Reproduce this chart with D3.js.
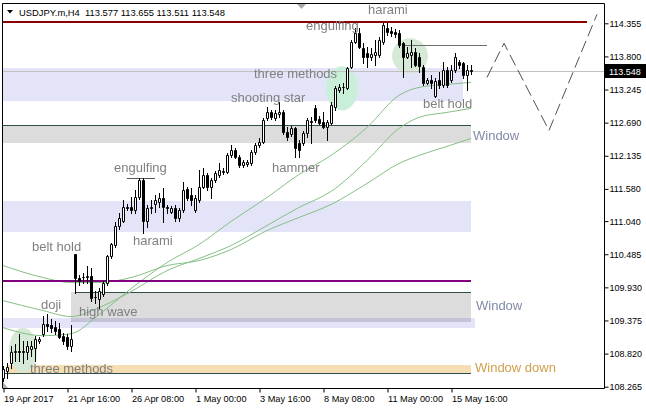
<!DOCTYPE html>
<html><head><meta charset="utf-8">
<script src="https://cdn.jsdelivr.net/npm/d3@7/dist/d3.min.js"></script>
<style>body{margin:0;background:#fff}svg{display:block}text{font-family:"Liberation Sans",Arial,sans-serif}</style>
</head><body><svg id="c" width="646" height="410"></svg>
<script>
// ---- data ----
const symbolTitle = "USDJPY.m,H4  113.577 113.655 113.511 113.548";
const lastPrice = 113.548;
const open = [108.416,108.534,108.668,108.853,108.870,108.853,108.853,108.903,108.920,109.037,109.154,109.322,109.305,109.272,109.238,109.120,109.104,108.953,110.496,110.094,110.111,110.111,110.128,109.775,109.741,109.825,110.010,110.463,110.648,110.966,111.050,111.269,111.269,111.218,111.436,111.721,111.050,111.252,111.335,111.352,111.419,111.269,111.201,111.252,111.084,111.218,111.570,111.470,111.218,111.386,111.604,111.805,111.604,111.721,111.805,111.855,111.855,112.141,112.224,112.107,111.973,111.990,112.006,112.191,112.308,112.359,112.761,112.862,112.761,112.828,112.862,112.527,112.493,112.594,112.342,112.342,112.510,112.711,112.929,112.745,112.694,112.610,112.677,112.946,113.231,113.281,113.265,113.617,114.036,114.187,113.936,113.852,113.785,113.818,113.818,114.036,114.271,114.221,114.204,114.187,114.019,113.785,113.818,113.868,113.785,113.617,113.348,113.399,113.130,113.399,113.315,113.567,113.399,113.567,113.701,113.684,113.483,113.577];
const high = [108.617,108.668,108.953,108.987,109.154,109.037,109.037,109.037,109.120,109.104,109.456,109.490,109.406,109.372,109.339,109.171,109.154,109.305,110.496,110.144,110.178,110.295,110.262,109.876,109.926,110.044,110.479,110.681,111.017,111.168,111.386,111.319,111.436,111.554,111.755,111.755,111.302,111.386,111.470,111.503,111.587,111.302,111.285,111.302,111.252,111.688,111.604,111.587,111.470,111.889,111.923,111.839,111.755,111.872,112.006,111.923,112.174,112.308,112.258,112.141,112.057,112.057,112.224,112.342,112.426,112.761,112.946,112.895,112.895,113.030,112.895,112.610,112.627,112.610,112.392,112.543,112.761,112.778,112.979,112.795,112.862,112.728,113.030,113.298,113.332,113.348,113.617,114.070,114.271,114.271,114.019,113.952,113.936,114.070,114.120,114.372,114.372,114.288,114.254,114.238,114.036,113.952,114.070,113.936,113.852,113.650,113.432,113.483,113.432,113.533,113.701,113.617,113.650,113.852,113.734,113.701,113.650,113.655];
const low = [108.366,108.416,108.584,108.702,108.702,108.668,108.735,108.785,108.702,109.003,109.120,109.205,109.188,109.154,109.087,108.987,108.903,108.870,109.842,109.976,110.010,110.010,109.708,109.674,109.591,109.792,109.976,110.429,110.614,110.916,111.017,111.218,111.168,111.168,111.403,110.849,110.933,111.168,111.185,111.269,111.017,111.168,111.168,111.050,111.050,111.185,111.386,111.302,111.185,111.352,111.587,111.554,111.419,111.688,111.772,111.822,111.839,112.107,112.090,111.939,111.939,111.956,111.973,112.157,112.275,112.342,112.728,112.745,112.728,112.778,112.493,112.392,112.460,112.107,112.107,112.308,112.443,112.342,112.694,112.661,112.594,112.392,112.661,112.895,113.198,113.181,113.248,113.600,114.019,113.936,113.684,113.617,113.734,113.650,113.785,114.003,114.154,114.137,114.120,113.952,113.449,113.768,113.617,113.634,113.533,113.315,113.332,113.265,113.114,113.265,113.281,113.281,113.365,113.533,113.600,113.432,113.231,113.511];
const close = [108.567,108.601,108.853,108.870,108.853,108.860,108.953,108.953,109.070,109.070,109.322,109.288,109.255,109.205,109.104,109.037,108.953,109.070,110.094,110.044,110.105,110.128,109.758,109.770,109.876,110.010,110.463,110.664,110.966,111.084,111.269,111.252,111.218,111.436,111.721,111.034,111.252,111.269,111.386,111.419,111.269,111.252,111.252,111.084,111.218,111.554,111.419,111.386,111.419,111.604,111.805,111.604,111.721,111.839,111.889,111.872,112.141,112.224,112.107,111.973,112.023,112.023,112.191,112.308,112.359,112.728,112.862,112.778,112.845,112.862,112.527,112.443,112.594,112.258,112.224,112.510,112.728,112.694,112.728,112.677,112.610,112.694,112.979,113.265,113.281,113.290,113.600,114.036,114.187,113.952,113.785,113.785,113.835,113.868,114.070,114.321,114.204,114.187,114.170,113.986,113.785,113.852,113.868,113.650,113.634,113.348,113.399,113.348,113.382,113.315,113.567,113.315,113.567,113.785,113.650,113.483,113.567,113.548];

const maIndex = [0,10,17,24,32,41,49,57,66,74,82,91,99,104,111,117];
const maFast = [109.255,109.120,109.154,109.473,109.909,110.345,110.648,111.034,111.436,111.822,112.141,112.610,113.148,113.281,113.332,113.365];
const maMid  = [109.708,109.541,109.440,109.591,109.859,110.211,110.413,110.631,110.966,111.269,111.537,112.057,112.594,112.778,112.862,112.929];
const maSlow = [110.295,110.094,110.010,110.010,110.094,110.295,110.379,110.564,110.882,111.101,111.319,111.671,112.006,112.141,112.292,112.426];

const timeLabels = ["19 Apr 2017","21 Apr 16:00","26 Apr 08:00","1 May 00:00","3 May 16:00","8 May 08:00","11 May 00:00","15 May 16:00"];
const timeIndex = [0,16,32,48,64,80,96,112];
const priceTicks = [114.355,113.800,113.245,112.690,112.135,111.580,111.040,110.485,109.930,109.375,108.820,108.265];

// zones: [fromBar, toBar, topPrice, bottomPrice]
const lavenderZones = [[-1,115,113.606,113.053],[-1,117,111.376,110.857],[-1,118,109.418,109.250]];
const windowZones = [[-1,117,112.651,112.349],[17,117,109.852,109.349]];
const windowDownZone = [1,117,108.631,108.497];
// horizontal lines: [fromBar, toBar, price]
const maroonLine = [-1,146,114.38];
const purpleLine = [-1,117,110.04];
const greyLine = [100,121,113.986];
const engulfMark = [31,38,111.762];
const gapLines = [[-1,117,112.651],[18,117,109.852],[-1,117,108.497]];
// ellipses: [fromBar, toBar, topPrice, bottomPrice]
const ellipses = [[80.75,88.75,113.634,112.895],[97.25,106.25,114.103,113.516],[1.5,8.5,109.255,108.500]];
const ellipseColors = ["#c9efd9","#d6e8d6","#d6e8d6"];
// projection zigzag: bar index, price
const zigIndex = [121,125.25,136.5,148.5];
const zigPrice = [113.449,114.020,112.560,114.506];
// pattern labels: text, bar index, baseline price
const labelText = ["harami","engulfing","three methods","shooting star","hammer","engulfing","harami","belt hold","doji","high wave","three methods","belt hold"];
const labelIndex = [91.25,75.75,62.75,57,67.25,27.75,32.5,7.25,9.5,19,6.75,105];
const labelPrice = [114.519,114.243,113.438,113.036,111.863,111.855,110.640,110.539,109.567,109.450,108.494,112.936];
const windowText = ["Window","Window","Window down"];
const windowIndex = [117.5,118.25,118];
const windowPrice = [112.399,109.550,108.511];

// ---- scales ----
const x = d3.scaleLinear().domain([0,150]).range([3,603]);
const y = d3.scaleLinear().domain([108.265,114.355]).range([386.7,23.3]);
const svg = d3.select("#c");
svg.append("rect").attr("width",646).attr("height",410).attr("fill","#fff");
const defs = svg.append("defs");
defs.append("clipPath").attr("id","clip").append("rect").attr("x",3).attr("y",4).attr("width",601).attr("height",384);
const g = svg.append("g").attr("clip-path","url(#clip)");
const X = i => Math.round(x(i));
const Y = p => Math.round(y(p));

// zones
function zone(z, fill, blend){
  g.append("rect").attr("x",X(z[0])).attr("y",Y(z[2])).attr("width",X(z[1])-X(z[0])).attr("height",Y(z[3])-Y(z[2]))
   .attr("fill",fill).style("mix-blend-mode",blend||"normal");
}
windowZones.forEach(z=>zone(z,"#dcdcdc"));
zone(windowDownZone,"#f5deb3");
lavenderZones.forEach(z=>zone(z,"#e3e4f8","multiply"));
gapLines.forEach(l=>g.append("line").attr("x1",X(l[0])).attr("x2",X(l[1])).attr("y1",Y(l[2])+0.5).attr("y2",Y(l[2])+0.5).attr("stroke","#2f4f4f"));

// ellipses
ellipses.forEach((e,k)=>{
  const x0=x(e[0]),x1=x(e[1]),y0=y(e[2]),y1=y(e[3]);
  g.append("ellipse").attr("cx",(x0+x1)/2).attr("cy",(y0+y1)/2).attr("rx",(x1-x0)/2).attr("ry",(y1-y0)/2)
   .attr("fill",ellipseColors[k]);
});

// current price line
g.append("line").attr("x1",3).attr("x2",604).attr("y1",Y(lastPrice)+0.5).attr("y2",Y(lastPrice)+0.5).attr("stroke","#c0c0c0");

// MAs
const maLine = d3.line().x((d,k)=>x(maIndex[k])).y(d=>y(d)).curve(d3.curveMonotoneX);
[maFast,maMid,maSlow].forEach(s=>g.append("path").attr("d",maLine(s)).attr("fill","none").attr("stroke","#86c086").attr("stroke-width",1));

// horizontal objects
function hline(l,color,w,offset){
  g.append("line").attr("x1",X(l[0])).attr("x2",X(l[1])).attr("y1",Y(l[2])+offset).attr("y2",Y(l[2])+offset).attr("stroke",color).attr("stroke-width",w);
}
hline(purpleLine,"#800080",2,0);
hline(greyLine,"#6e6e6e",1,0.5);
hline(engulfMark,"#555555",1,0.5);

// candles
const candles = d3.range(open.length).map(i=>({i,o:open[i],h:high[i],l:low[i],c:close[i]}));
g.selectAll("line.wick").data(candles).join("line").attr("class","wick")
 .attr("x1",d=>X(d.i)+0.5).attr("x2",d=>X(d.i)+0.5)
 .attr("y1",d=>Y(d.h)).attr("y2",d=>Y(d.l)+1).attr("stroke","#000");
g.selectAll("path.body").data(candles).join("path").attr("class","body")
 .attr("d",d=>{const t=Y(Math.max(d.o,d.c)),b=Y(Math.min(d.o,d.c));return `M${X(d.i)-0.5},${t+0.5}h2v${b-t}h-2z`;})
 .attr("fill",d=>d.c>d.o?"#fff":"#000").attr("stroke","#000");

hline(maroonLine,"#8b0000",2,0);

// zigzag projection
const zig = d3.line().x((d,k)=>x(zigIndex[k])).y(d=>y(d));
g.append("path").attr("d",zig(zigPrice)).attr("fill","none").attr("stroke","#505050").attr("stroke-width",1).attr("stroke-dasharray","12,5");

// labels
labelText.forEach((t,k)=>g.append("text").attr("x",x(labelIndex[k])).attr("y",y(labelPrice[k])).text(t)
  .attr("font-size","13px").attr("fill","#808080"));
windowText.forEach((t,k)=>g.append("text").attr("x",x(windowIndex[k])).attr("y",y(windowPrice[k])).text(t)
  .attr("font-size","13px").attr("fill",k==2?"#cfa04a":"#8089a8"));

// markers
svg.append("path").attr("d","M297,4h9l-4.5,5z").attr("fill","#a8a8a8");
svg.append("path").attr("d","M3,382l5,6h-5z").attr("fill","#b0b0b0");

// frame
const frame = svg.append("g").attr("stroke","#000").attr("fill","none");
frame.append("path").attr("d","M2.5,388V3.5H604.5V388.5H2.5");

// axes
const yAxis = d3.axisRight(y).tickValues(priceTicks).tickFormat(d=>d.toFixed(3)).tickSize(4).tickPadding(1);
const ya = svg.append("g").attr("transform","translate(604.5,0)").call(yAxis);
ya.select(".domain").remove();
ya.selectAll("text").attr("font-size","9px").attr("fill","#000").style("font-family","'Liberation Sans',Arial,sans-serif");
ya.selectAll("line").attr("stroke","#000");
const xAxis = d3.axisBottom(x).tickValues(timeIndex).tickFormat((d,k)=>timeLabels[k]).tickSize(4).tickPadding(3);
const xa = svg.append("g").attr("transform","translate(0.5,388.5)").call(xAxis);
xa.select(".domain").remove();
xa.selectAll("text").attr("text-anchor","start").attr("font-size","9.2px").attr("fill","#000").style("font-family","'Liberation Sans',Arial,sans-serif");
xa.selectAll("line").attr("stroke","#000");

// current price tag
svg.append("rect").attr("x",605).attr("y",Y(lastPrice)-7).attr("width",41).attr("height",14).attr("fill","#000");
svg.append("text").attr("x",609).attr("y",Y(lastPrice)+3.5).text(lastPrice.toFixed(3)).attr("font-size","9px").attr("fill","#fff");

// header
svg.append("path").attr("d","M7,10h6l-3,3.5z").attr("fill","#000");
svg.append("text").attr("x",19).attr("y",16).text(symbolTitle).attr("font-size","9.4px").attr("fill","#000").attr("xml:space","preserve");
</script></body></html>
